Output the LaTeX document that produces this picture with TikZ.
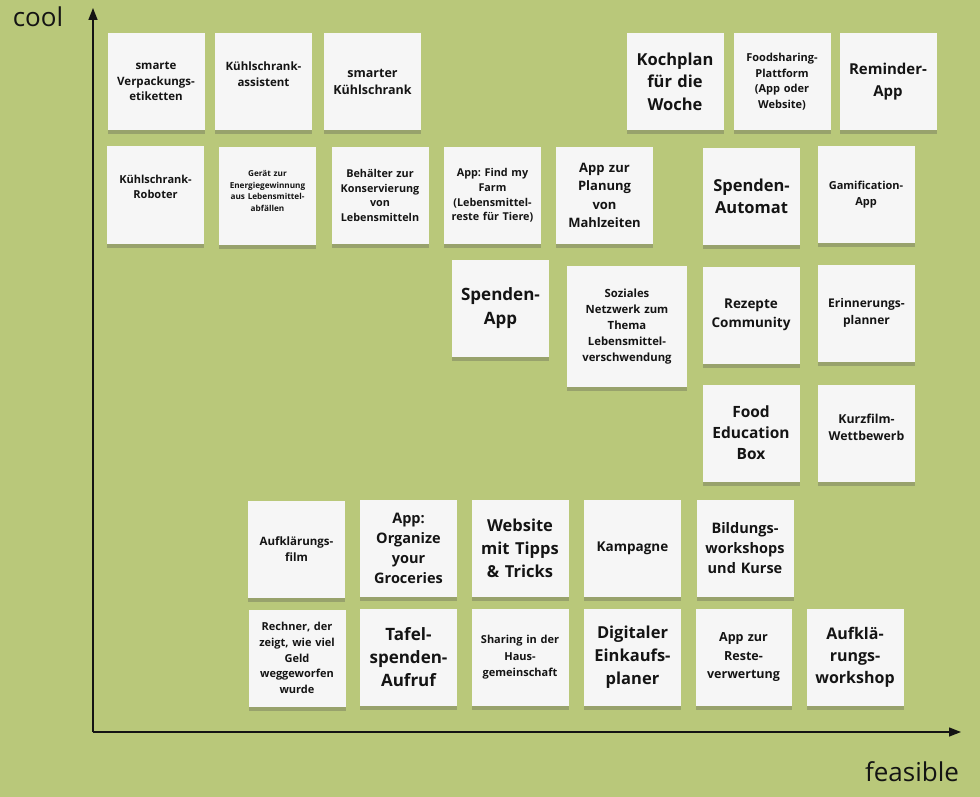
\documentclass[tikz,border=0pt]{standalone}
\usepackage{fontspec}
\setmainfont{Open Sans}
\usepackage{tikz}
\usetikzlibrary{arrows.meta,shadows}
\definecolor{boardgreen}{RGB}{185,200,122}
\definecolor{paper}{RGB}{246,246,246}
\definecolor{inkblack}{RGB}{20,20,20}
\frenchspacing
\tikzset{
  note/.style   ={rectangle, fill=paper, text=inkblack, align=center, text width=94pt,
                  minimum width=97pt, minimum height=97pt, inner sep=1pt,
                  drop shadow={shadow xshift=0pt, shadow yshift=-4pt, opacity=0.3, fill=black!70}},
  fs/.style 2 args={font=\bfseries\fontsize{#1}{#2}\selectfont},
  lift/.style   ={text depth=#1},
  axis/.style   ={-{Triangle[length=12pt,width=9pt]}, line width=1.4pt, draw=inkblack},
  axlbl/.style  ={font=\fontsize{26}{30}\selectfont, text=inkblack}
}
\begin{document}
\begin{tikzpicture}[x=1pt, y=-1pt]
\useasboundingbox[fill=boardgreen] (0,0) rectangle (980,797);

% axes
\coordinate (o) at (93,732);
\coordinate (ytop) at (93,8);
\coordinate (xend) at (961,732);
\draw[axis] (o) -- (ytop);
\draw[axis] (o) -- (xend);
\node[axlbl] (cool) at (38,17) {cool};
\node[axlbl] (feasible) at (912,772) {feasible};

% row 1
\node[note, fs={11.5}{15.5}] (verp) at (156,81.5) {smarte\\Verpackungs-\\etiketten};
\node[note, fs={11.5}{15.5}, lift=30pt] (kassist) at (263.5,81.5) {Kühlschrank-\\assistent};
\node[note, fs={12.5}{17}] (kschrank) at (372.5,81.5) {smarter\\Kühlschrank};
\node[note, fs={16.5}{22.5}] (kochplan) at (675,81.5) {Kochplan\\für die\\Woche};
\node[note, fs={11}{15.5}] (foodsh) at (782,81.5) {Foodsharing-\\Plattform\\(App oder\\Website)};
\node[note, fs={15}{21.5}] (reminder) at (888,81.5) {Reminder-\\App};

% row 2
\node[note, fs={11}{15.5}, lift=32pt] (roboter) at (155.5,195) {Kühlschrank-\\Roboter};
\node[note, fs={8.2}{11.5}, lift=45pt] (energie) at (267.5,196) {Gerät zur\\Energiegewinnung\\aus Lebensmittel-\\abfällen};
\node[note, fs={10.8}{14.8}] (behaelter) at (380,195.5) {Behälter zur\\Konservierung\\von\\Lebensmitteln};
\node[note, fs={10.8}{14.8}] (farm) at (492.5,195.5) {App: Find my\\Farm\\(Lebensmittel-\\reste für Tiere)};
\node[note, fs={13}{18.3}] (planung) at (604.5,195.5) {App zur\\Planung\\von\\Mahlzeiten};
\node[note, fs={16.5}{22.5}] (automat) at (751.5,196.5) {Spenden-\\Automat};
\node[note, fs={11}{16}] (gamific) at (866,194.5) {Gamification-\\App};

% row 3
\node[note, fs={17}{24}] (spapp) at (500.5,308) {Spenden-\\App};
\node[note, fs={11.3}{16}, minimum width=120pt, minimum height=121pt, text width=116pt] (sozial) at (627,326.5) {Soziales\\Netzwerk zum\\Thema\\Lebensmittel-\\verschwendung};
\node[note, fs={13.5}{19}] (rezepte) at (751,315) {Rezepte\\Community};
\node[note, fs={12}{17}] (erinner) at (866.5,313) {Erinnerungs-\\planner};

% row 4
\node[note, fs={15.5}{21}] (foodbox) at (751,433) {Food\\Education\\Box};
\node[note, fs={12.3}{17}, lift=28pt] (kurzfilm) at (866.5,433) {Kurzfilm-\\Wettbewerb};

% row 5
\node[note, fs={11.5}{16}] (aufkfilm) at (296.5,549) {Aufklärungs-\\film};
\node[note, fs={14.5}{20}] (organize) at (408.5,548.5) {App:\\Organize\\your\\Groceries};
\node[note, fs={16.5}{23}] (website) at (520,548.5) {Website\\mit Tipps\\\& Tricks};
\node[note, fs={13.5}{19}] (kampagne) at (632.5,548.5) {Kampagne};
\node[note, fs={14.5}{20}] (bildung) at (745,548.5) {Bildungs-\\workshops\\und Kurse};

% row 6
\node[note, fs={11}{15.8}] (rechner) at (297,658) {Rechner, der\\zeigt, wie viel\\Geld\\weggeworfen\\wurde};
\node[note, fs={17}{23}] (tafel) at (408.5,657.5) {Tafel-\\spenden-\\Aufruf};
\node[note, fs={11}{16.5}] (sharing) at (520,657.5) {Sharing in der\\Haus-\\gemeinschaft};
\node[note, fs={16.5}{23}] (einkauf) at (632.5,657.5) {Digitaler\\Einkaufs-\\planer};
\node[note, fs={12.5}{18.5}, minimum width=95pt] (reste) at (743.5,657.5) {App zur\\Reste-\\verwertung};
\node[note, fs={16}{22}] (aufkws) at (855,657.5) {Aufklä-\\rungs-\\workshop};
\end{tikzpicture}
\end{document}
